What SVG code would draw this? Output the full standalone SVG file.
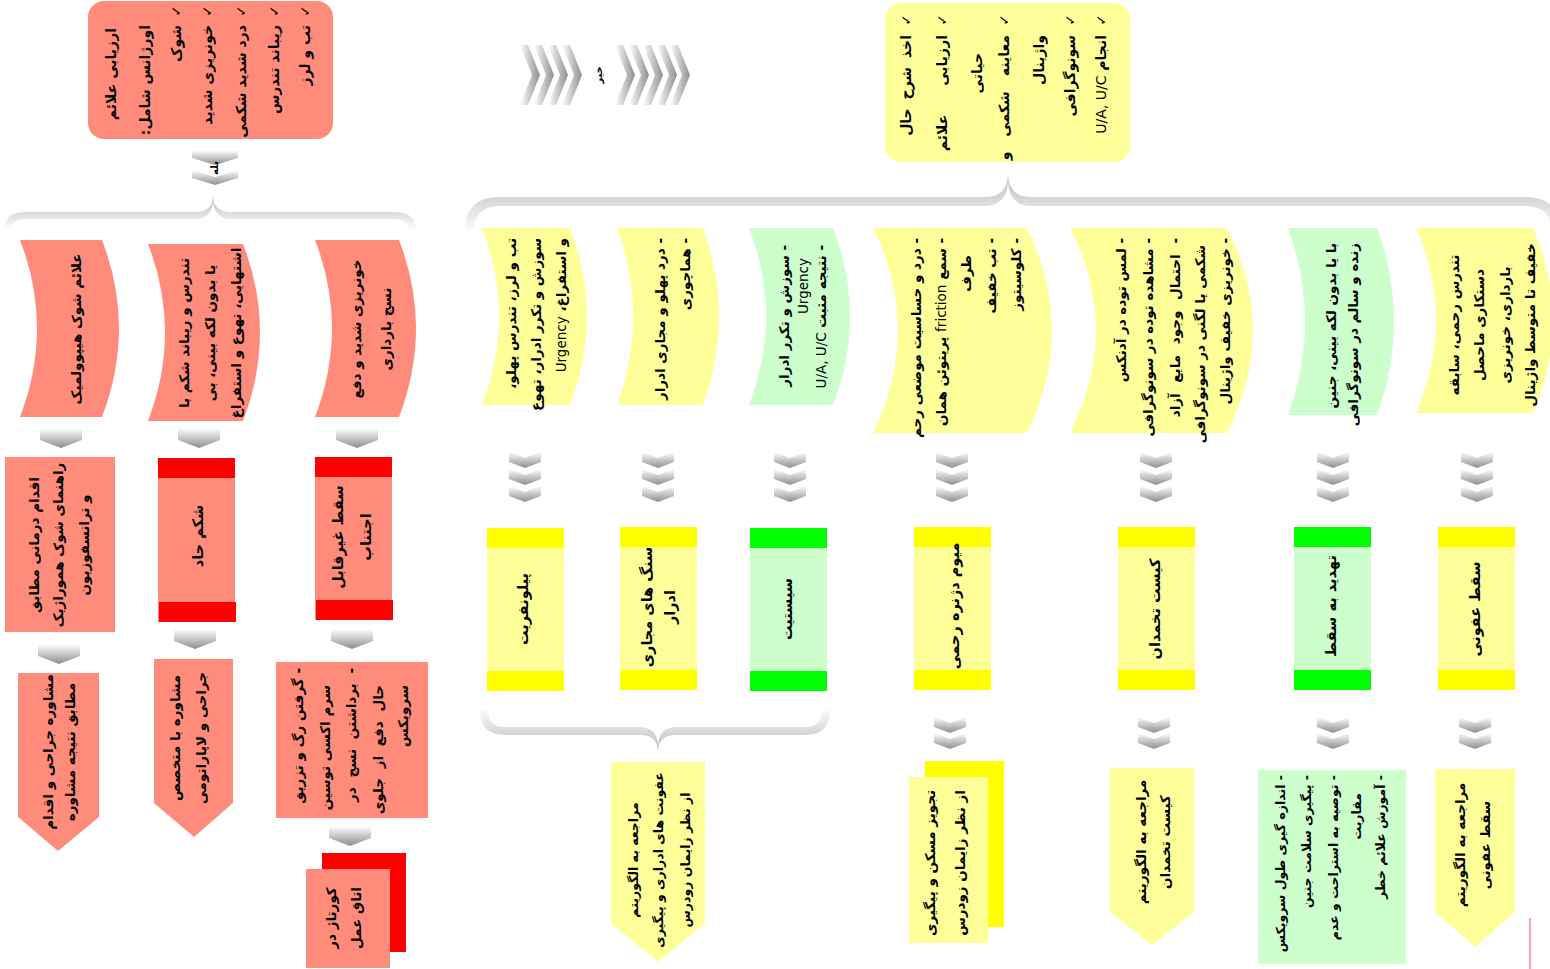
<svg xmlns="http://www.w3.org/2000/svg" width="1550" height="969" viewBox="0 0 1550 969">
<style>
.t{font-family:"DejaVu Sans",sans-serif;font-weight:bold;font-size:13.5px;fill:#000;direction:rtl}
.big{font-size:14px}
.lb{font-size:14.5px}
.nar{font-size:12.5px}
.sm{font-size:10px}
.s{text-anchor:start}
.m{text-anchor:middle}
.lat{font-weight:normal}
.sal{fill:#FF8C7A}
.ly{fill:#FFFF99}
.lg{fill:#CCFFCC}
.yb{fill:#FFFF00}
.gb{fill:#00FF00}
.rb{fill:#FF0000}
.chv{fill:url(#gv)}
.chh{fill:url(#gh)}
</style>
<defs>
<linearGradient id="gv" x1="0" y1="0" x2="0" y2="1">
<stop offset="0" stop-color="#FFFFFF"/>
<stop offset="1" stop-color="#8E8E8E"/>
</linearGradient>
<linearGradient id="gh" x1="0" y1="0" x2="1" y2="0">
<stop offset="0" stop-color="#FFFFFF"/>
<stop offset="1" stop-color="#8E8E8E"/>
</linearGradient>
<linearGradient id="gbrUp" x1="0" y1="0" x2="0" y2="1">
<stop offset="0" stop-color="#B8B8B8"/>
<stop offset="1" stop-color="#FBFBFB"/>
</linearGradient>
<linearGradient id="gbrDn" x1="0" y1="0" x2="0" y2="1">
<stop offset="0" stop-color="#FBFBFB"/>
<stop offset="1" stop-color="#B8B8B8"/>
</linearGradient>
<path id="chev" d="M-16,0 L0,6 L16,0 L16,10 L0,16 L-16,10 Z"/>
<path id="pent" d="M-21,0 H21 V12 L0,20 L-21,12 Z"/>
<path id="chevR" d="M0,0 H8 L20,30 L8,60 H0 L12,30 Z"/>
</defs>

<!-- connectors: braces, chevron arrows -->
<g id="connectors">
<path d="M5,228 Q5,212 25,212 L195,212 Q213,212 213,195 Q213,212 231,212 L395,212 Q415,212 415,228 L408,228 Q408,219 392,219 L232,219 Q214,219 213,201 Q212,219 194,219 L28,219 Q12,219 12,228 Z" fill="url(#gbrUp)"/>
<path d="M465,230 Q465,197 500,197 L985,197 Q1008,197 1008,173 Q1008,197 1031,197 L1525,197 Q1560,197 1560,230 L1551,230 Q1551,206 1525,206 L1032,206 Q1009,206 1008,181 Q1007,206 984,206 L500,206 Q474,206 474,230 Z" fill="url(#gbrUp)"/>
<path d="M480,710 Q480,735 505,735 L640,735 Q658,735 658,752 Q658,735 676,735 L805,735 Q830,735 830,710 L822,710 Q822,727 805,727 L677,727 Q659,727 658,745 Q657,727 639,727 L505,727 Q488,727 488,710 Z" fill="url(#gbrDn)"/>

<!-- yes -->
<path class="chv" d="M192,150 H238 V158 L215,165 L192,158 Z"/>
<path class="chv" d="M192,170 L215,177 L238,170 V178 L215,185 L192,178 Z"/>
<text class="t sm m" transform="rotate(-90 218 168)" x="218" y="168">بله</text>

<!-- no -->
<use href="#chevR" class="chh" x="520" y="45"/>
<use href="#chevR" class="chh" x="534" y="45"/>
<use href="#chevR" class="chh" x="548" y="45"/>
<use href="#chevR" class="chh" x="562" y="45"/>
<use href="#chevR" class="chh" x="615" y="45"/>
<use href="#chevR" class="chh" x="629" y="45"/>
<use href="#chevR" class="chh" x="643" y="45"/>
<use href="#chevR" class="chh" x="657" y="45"/>
<use href="#chevR" class="chh" x="670" y="45"/>
<text class="t sm m" transform="rotate(-90 602 75)" x="602" y="75">خیر</text>

<!-- left column arrows -->
<use href="#pent" class="chv" x="61" y="428"/>
<use href="#pent" class="chv" x="199" y="428"/>
<use href="#pent" class="chv" x="357" y="428"/>
<use href="#pent" class="chv" x="59" y="644"/>
<use href="#pent" class="chv" x="195" y="629"/>
<use href="#pent" class="chv" x="352" y="629"/>
<use href="#pent" class="chv" x="350" y="826"/>

<!-- right column triple chevrons -->
<use href="#chev" class="chv" x="525" y="452"/><use href="#chev" class="chv" x="525" y="469"/><use href="#chev" class="chv" x="525" y="486"/>
<use href="#chev" class="chv" x="658" y="452"/><use href="#chev" class="chv" x="658" y="469"/><use href="#chev" class="chv" x="658" y="486"/>
<use href="#chev" class="chv" x="790" y="452"/><use href="#chev" class="chv" x="790" y="469"/><use href="#chev" class="chv" x="790" y="486"/>
<use href="#chev" class="chv" x="952" y="452"/><use href="#chev" class="chv" x="952" y="469"/><use href="#chev" class="chv" x="952" y="486"/>
<use href="#chev" class="chv" x="1156" y="452"/><use href="#chev" class="chv" x="1156" y="469"/><use href="#chev" class="chv" x="1156" y="486"/>
<use href="#chev" class="chv" x="1333" y="452"/><use href="#chev" class="chv" x="1333" y="469"/><use href="#chev" class="chv" x="1333" y="486"/>
<use href="#chev" class="chv" x="1477" y="452"/><use href="#chev" class="chv" x="1477" y="469"/><use href="#chev" class="chv" x="1477" y="486"/>

<!-- right column double chevrons -->
<use href="#chev" class="chv" x="950" y="717"/><use href="#chev" class="chv" x="950" y="733"/>
<use href="#chev" class="chv" x="1154" y="717"/><use href="#chev" class="chv" x="1154" y="733"/>
<use href="#chev" class="chv" x="1333" y="717"/><use href="#chev" class="chv" x="1333" y="733"/>
<use href="#chev" class="chv" x="1475" y="717"/><use href="#chev" class="chv" x="1475" y="733"/>
<line x1="1530" y1="918" x2="1530" y2="969" stroke="#F4A3B6" stroke-width="2"/>
</g>

<!-- emergency check -->
<g id="emergency">
<rect class="sal" x="88" y="1" width="245" height="138" rx="16"/>
<g class="t big">
<text class="s" transform="rotate(-90 116 28)" x="116" y="28">ارزیابی علائم</text>
<text class="s" transform="rotate(-90 150 25)" x="150" y="25">اورژانس شامل:</text>
<text class="s" transform="rotate(-90 181 5)" x="181" y="5">✓</text>
<text class="s" transform="rotate(-90 181 25)" x="181" y="25">شوک</text>
<text class="s" transform="rotate(-90 212 5)" x="212" y="5">✓</text>
<text class="s" transform="rotate(-90 212 25)" x="212" y="25">خونریزی شدید</text>
<text class="s" transform="rotate(-90 246 5)" x="246" y="5">✓</text>
<text class="s" transform="rotate(-90 246 25)" x="246" y="25">درد شدید شکمی</text>
<text class="s" transform="rotate(-90 279 5)" x="279" y="5">✓</text>
<text class="s" transform="rotate(-90 279 25)" x="279" y="25">ریباند تندرس</text>
<text class="s" transform="rotate(-90 310 5)" x="310" y="5">✓</text>
<text class="s" transform="rotate(-90 310 25)" x="310" y="25">تب و لرز</text>
</g>
</g>

<!-- initial assessment -->
<g id="assessment">
<rect class="ly" x="885" y="3" width="245" height="159" rx="16"/>
<g class="t big">
<text class="s" transform="rotate(-90 911 14)" x="911" y="14">✓</text>
<text class="s" transform="rotate(-90 911 35)" x="911" y="35" style="word-spacing:4px">اخذ شرح حال</text>
<text class="s" transform="rotate(-90 947 14)" x="947" y="14">✓</text>
<text class="s" transform="rotate(-90 947 35)" x="947" y="35" style="word-spacing:24px">ارزیابی علائم</text>
<text class="s" transform="rotate(-90 982 53)" x="982" y="53">حیاتی</text>
<text class="s" transform="rotate(-90 1009 14)" x="1009" y="14">✓</text>
<text class="s" transform="rotate(-90 1009 35)" x="1009" y="35" style="word-spacing:10px">معاینه شکمی و</text>
<text class="s" transform="rotate(-90 1044 35)" x="1044" y="35">واژینال</text>
<text class="s" transform="rotate(-90 1075 14)" x="1075" y="14">✓</text>
<text class="s" transform="rotate(-90 1075 35)" x="1075" y="35">سونوگرافی</text>
<text class="s" transform="rotate(-90 1106 14)" x="1106" y="14">✓</text>
<text class="s" transform="rotate(-90 1106 35)" x="1106" y="35">انجام <tspan class="lat">U/A, U/C</tspan></text>
</g>
</g>

<!-- yes branch: red column 1 -->
<g id="shock">
<path class="sal" d="M20,240 H102 Q136,328 102,417 H20 Q54,328 20,240 Z"/>
<text class="t m" transform="rotate(-90 81 329)" x="81" y="329">علائم شوک هیپوولمیک</text>
</g>
<g id="shock-action">
<rect class="sal" x="5" y="457" width="110" height="175"/>
<g class="t m">
<text transform="rotate(-90 39 545)" x="39" y="545">اقدام درمانی مطابق</text>
<text transform="rotate(-90 63 545)" x="63" y="545">راهنمای شوک هموراژیک</text>
<text transform="rotate(-90 89 545)" x="89" y="545">و ترانسفوزیون</text>
</g>
</g>
<g id="shock-consult">
<path class="sal" d="M18,673 H99 V817 L58,851 L18,817 Z"/>
<g class="t m">
<text transform="rotate(-90 53 752)" x="53" y="752">مشاوره جراحی و اقدام</text>
<text transform="rotate(-90 75 752)" x="75" y="752">مطابق نتیجه مشاوره</text>
</g>
</g>

<!-- yes branch: red column 2 -->
<g id="abdomen">
<path class="sal" d="M148,244 H243 Q277,332 243,421 H148 Q182,332 148,244 Z"/>
<g class="t m">
<text transform="rotate(-90 189 333)" x="189" y="333">تندرس و ریباند شکم با</text>
<text transform="rotate(-90 215 333)" x="215" y="333">یا بدون لکه بینی، بی</text>
<text transform="rotate(-90 241 333)" x="241" y="333">اشتهایی، تهوع و استفراغ</text>
</g>
</g>
<g id="acute-abdomen">
<rect class="sal" x="158" y="458" width="77" height="164"/>
<rect class="rb" x="158" y="458" width="77" height="20"/>
<rect class="rb" x="159" y="602" width="77" height="20"/>
<text class="t lb m" transform="rotate(-90 203 536)" x="203" y="536">شکم حاد</text>
</g>
<g id="abdomen-consult">
<path class="sal" d="M154,659 H233 V803 L194,837 L154,803 Z"/>
<g class="t m">
<text transform="rotate(-90 180 738)" x="180" y="738">مشاوره با متخصص</text>
<text transform="rotate(-90 206 738)" x="206" y="738">جراحی و لاپاراتومی</text>
</g>
</g>

<!-- yes branch: red column 3 -->
<g id="bleeding">
<path class="sal" d="M315,240 H399 Q433,328 399,417 H315 Q349,328 315,240 Z"/>
<g class="t m">
<text transform="rotate(-90 361 329)" x="361" y="329">خونریزی شدید و دفع</text>
<text transform="rotate(-90 391 329)" x="391" y="329">نسج بارداری</text>
</g>
</g>
<g id="inevitable-abortion">
<rect class="sal" x="315" y="457" width="77" height="163"/>
<rect class="rb" x="315" y="457" width="77" height="20"/>
<rect class="rb" x="316" y="600" width="77" height="20"/>
<g class="t lb m">
<text transform="rotate(-90 343 537)" x="343" y="537">سقط غیرقابل</text>
<text transform="rotate(-90 371 537)" x="371" y="537">اجتناب</text>
</g>
</g>
<g id="abortion-care">
<rect class="sal" x="276" y="662" width="152" height="156"/>
<g class="t s">
<text transform="rotate(-90 303 668)" x="303" y="668">- گرفتن رگ و تزریق</text>
<text transform="rotate(-90 330 685)" x="330" y="685">سرم اکسی توسین</text>
<text transform="rotate(-90 356 668)" x="356" y="668" style="word-spacing:5px">- برداشتن نسج در</text>
<text transform="rotate(-90 383 685)" x="383" y="685" style="word-spacing:5px">حال دفع از جلوی</text>
<text transform="rotate(-90 408 685)" x="408" y="685">سرویکس</text>
</g>
</g>
<g id="curettage">
<rect class="rb" x="322" y="853" width="84" height="99"/>
<rect class="sal" x="306" y="869" width="84" height="99"/>
<g class="t m">
<text transform="rotate(-90 336 918)" x="336" y="918">کورتاژ در</text>
<text transform="rotate(-90 361 918)" x="361" y="918">اتاق عمل</text>
</g>
</g>

<!-- no branch: pyelonephritis -->
<g id="pyelo-signs">
<path class="ly" d="M482,228 H570 Q604,316 570,405 H482 Q516,316 482,228 Z"/>
<g class="t s">
<text transform="rotate(-90 516 238)" x="516" y="238">تب و لرز، تندرس پهلو،</text>
<text transform="rotate(-90 541 238)" x="541" y="238">سوزش و تکرر ادرار، تهوع</text>
<text transform="rotate(-90 566 238)" x="566" y="238">و استفراغ، <tspan class="lat">Urgency</tspan></text>
</g>
</g>
<g id="pyelo">
<rect class="ly" x="487" y="528" width="77" height="163"/>
<rect class="yb" x="487" y="528" width="77" height="20"/>
<rect class="yb" x="487" y="671" width="77" height="20"/>
<text class="t lb m" transform="rotate(-90 528 609)" x="528" y="609">پیلونفریت</text>
</g>

<!-- no branch: urinary stones -->
<g id="stone-signs">
<path class="ly" d="M617,228 H703 Q735,316 703,405 H617 Q649,316 617,228 Z"/>
<g class="t s">
<text transform="rotate(-90 665 238)" x="665" y="238">- درد پهلو و مجاری ادرار</text>
<text transform="rotate(-90 690 238)" x="690" y="238">- هماچوری</text>
</g>
</g>
<g id="stones">
<rect class="ly" x="620" y="527" width="77" height="163"/>
<rect class="yb" x="620" y="527" width="77" height="20"/>
<rect class="yb" x="620" y="670" width="77" height="20"/>
<g class="t lb m">
<text transform="rotate(-90 652 607)" x="652" y="607">سنگ های مجاری</text>
<text transform="rotate(-90 675 607)" x="675" y="607">ادرار</text>
</g>
</g>

<!-- no branch: cystitis -->
<g id="cystitis-signs">
<path class="lg" d="M749,228 H833 Q867,316 833,405 H749 Q783,316 749,228 Z"/>
<g class="t s">
<text transform="rotate(-90 789 245)" x="789" y="245">- سوزش و تکرر  ادرار</text>
<text transform="rotate(-90 808 258)" x="808" y="258"><tspan class="lat">Urgency</tspan></text>
<text transform="rotate(-90 826 245)" x="826" y="245">- نتیجه مثبت <tspan class="lat">U/A, U/C</tspan></text>
</g>
</g>
<g id="cystitis">
<rect class="lg" x="750" y="528" width="77" height="163"/>
<rect class="gb" x="750" y="528" width="77" height="20"/>
<rect class="gb" x="750" y="671" width="77" height="20"/>
<text class="t lb m" transform="rotate(-90 792 609)" x="792" y="609">سیستیت</text>
</g>

<!-- shared follow-up for urinary branches -->
<g id="uti-followup">
<path class="ly" d="M611,762 H705 V923 L658,962 L611,923 Z"/>
<g class="t nar m">
<text transform="rotate(-90 638 860)" x="638" y="860">مراجعه به الگوریتم</text>
<text transform="rotate(-90 663 860)" x="663" y="860">عفونت های ادراری و پیگیری</text>
<text transform="rotate(-90 690 860)" x="690" y="860">از نظر زایمان زودرس</text>
</g>
</g>

<!-- no branch: degenerating myoma -->
<g id="myoma-signs">
<path class="ly" d="M873,228 H1027 Q1077,330 1027,433 H873 Q923,330 873,228 Z"/>
<g class="t s">
<text transform="rotate(-90 921 238)" x="921" y="238">- درد و حساسیت موضعی رحم</text>
<text transform="rotate(-90 946 238)" x="946" y="238">- سمع <tspan class="lat">friction</tspan> پریتوئن  همان</text>
<text transform="rotate(-90 971 255)" x="971" y="255">طرف</text>
<text transform="rotate(-90 996 238)" x="996" y="238">- تب خفیف</text>
<text transform="rotate(-90 1021 238)" x="1021" y="238">- کلوسیتوز</text>
</g>
</g>
<g id="myoma">
<rect class="ly" x="914" y="527" width="77" height="163"/>
<rect class="yb" x="914" y="527" width="77" height="20"/>
<rect class="yb" x="914" y="670" width="77" height="20"/>
<text class="t lb m" transform="rotate(-90 959 606)" x="959" y="606">میوم دژنره رحمی</text>
</g>
<g id="myoma-care">
<rect class="yb" x="925" y="761" width="79" height="166"/>
<rect class="ly" x="909" y="777" width="79" height="166"/>
<g class="t m">
<text transform="rotate(-90 935 863)" x="935" y="863">تجویز مسکن و پیگیری</text>
<text transform="rotate(-90 965 863)" x="965" y="863">از نظر زایمان زودرس</text>
</g>
</g>

<!-- no branch: ovarian cyst -->
<g id="cyst-signs">
<path class="ly" d="M1070,228 H1227 Q1279,330 1227,433 H1070 Q1122,330 1070,228 Z"/>
<g class="t s">
<text transform="rotate(-90 1126 238)" x="1126" y="238">- لمس توده در آدنکس</text>
<text transform="rotate(-90 1153 238)" x="1153" y="238">- مشاهده توده در سونوگرافی</text>
<text transform="rotate(-90 1180 238)" x="1180" y="238" style="word-spacing:6px">- احتمال وجود مایع آزاد</text>
<text transform="rotate(-90 1205 245)" x="1205" y="245">شکمی یا لگنی در سونوگرافی</text>
<text transform="rotate(-90 1230 238)" x="1230" y="238">- خونریزی خفیف واژینال</text>
</g>
</g>
<g id="cyst">
<rect class="ly" x="1118" y="527" width="77" height="163"/>
<rect class="yb" x="1118" y="527" width="77" height="20"/>
<rect class="yb" x="1118" y="670" width="77" height="20"/>
<text class="t lb m" transform="rotate(-90 1160 609)" x="1160" y="609">کیست تخمدان</text>
</g>
<g id="cyst-followup">
<path class="ly" d="M1110,768 H1194 V912 L1152,945 L1110,912 Z"/>
<g class="t m">
<text transform="rotate(-90 1146 842)" x="1146" y="842">مراجعه به الگوریتم</text>
<text transform="rotate(-90 1170 842)" x="1170" y="842">کیست تخمدان</text>
</g>
</g>

<!-- no branch: threatened abortion -->
<g id="threat-signs">
<path class="lg" d="M1288,228 H1377 Q1411,321 1377,415 H1288 Q1322,321 1288,228 Z"/>
<g class="t s">
<text transform="rotate(-90 1336 243)" x="1336" y="243">با یا بدون لکه بینی، جنین</text>
<text transform="rotate(-90 1358 243)" x="1358" y="243">زنده و سالم در سونوگرافی</text>
</g>
</g>
<g id="threat">
<rect class="lg" x="1294" y="527" width="77" height="163"/>
<rect class="gb" x="1294" y="527" width="77" height="20"/>
<rect class="gb" x="1294" y="670" width="77" height="20"/>
<text class="t lb m" transform="rotate(-90 1336 606)" x="1336" y="606">تهدید به سقط</text>
</g>
<g id="threat-care">
<rect class="lg" x="1258" y="770" width="148" height="194"/>
<g class="t nar s">
<text transform="rotate(-90 1285 775)" x="1285" y="775">- اندازه گیری طول سرویکس</text>
<text transform="rotate(-90 1311 775)" x="1311" y="775">- پیگیری سلامت جنین</text>
<text transform="rotate(-90 1338 775)" x="1338" y="775">- توصیه به استراحت و  عدم</text>
<text transform="rotate(-90 1361 793)" x="1361" y="793">مقاربت</text>
<text transform="rotate(-90 1385 775)" x="1385" y="775">- آموزش علائم خطر</text>
</g>
</g>

<!-- no branch: septic abortion -->
<g id="septic-signs">
<path class="ly" d="M1416,228 H1533 Q1573,320 1533,413 H1416 Q1456,320 1416,228 Z"/>
<g class="t m">
<text transform="rotate(-90 1459 325)" x="1459" y="325">تندرس رحمی، سابقه</text>
<text transform="rotate(-90 1484 325)" x="1484" y="325">دستکاری ماحصل</text>
<text transform="rotate(-90 1510 325)" x="1510" y="325">بارداری، خونریزی</text>
<text transform="rotate(-90 1535 325)" x="1535" y="325">خفیف تا متوسط واژینال</text>
</g>
</g>
<g id="septic">
<rect class="ly" x="1438" y="527" width="77" height="163"/>
<rect class="yb" x="1438" y="527" width="77" height="20"/>
<rect class="yb" x="1438" y="670" width="77" height="20"/>
<text class="t lb m" transform="rotate(-90 1480 609)" x="1480" y="609">سقط عفونی</text>
</g>
<g id="septic-followup">
<path class="ly" d="M1435,769 H1515 V912 L1475,947 L1435,912 Z"/>
<g class="t m">
<text transform="rotate(-90 1465 845)" x="1465" y="845">مراجعه به الگوریتم</text>
<text transform="rotate(-90 1490 845)" x="1490" y="845">سقط عفونی</text>
</g>
</g>
</svg>
